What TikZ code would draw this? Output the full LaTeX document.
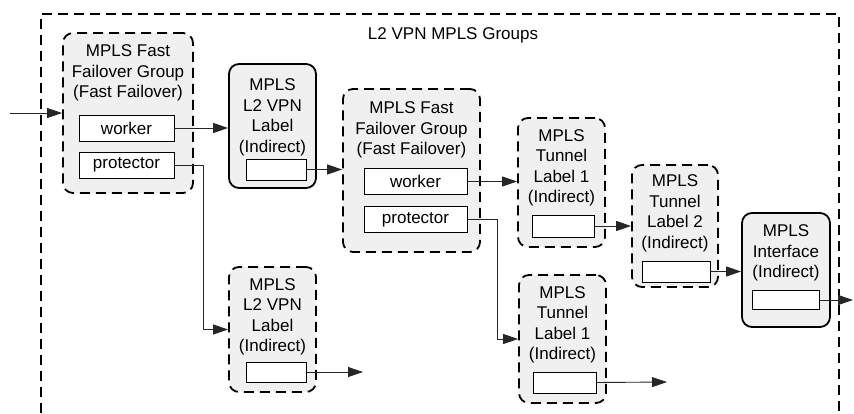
\documentclass[tikz,border=0pt]{standalone}
\usepackage{fontspec}
\setmainfont{Liberation Sans}
\usetikzlibrary{arrows.meta}
\begin{document}
\begin{tikzpicture}[x=1pt,y=-1pt,
 outer/.style={draw=black, line width=1.8pt, dash pattern=on 10pt off 6pt},
 grp/.style={draw=black, line width=1.8pt, dash pattern=on 10pt off 6pt, rounded corners=10pt, fill=black!6, inner sep=0pt},
 grpsolid/.style={draw=black, line width=1.8pt, rounded corners=10pt, fill=black!6, inner sep=0pt},
 slot/.style={draw=black, line width=0.8pt, fill=white, inner sep=0pt, font=\fontsize{17pt}{20.5pt}\selectfont},
 lbl/.style={font=\fontsize{17pt}{20.5pt}\selectfont, align=center, inner sep=0pt, text=black},
 conn/.style={line width=0.9pt, draw=black!85, -{Triangle[length=15pt,width=10pt]}},
]
\useasboundingbox (0,0) rectangle (854,413);
\draw[outer] (41,413) -- (41,14) -- (839,14) -- (839,413);
\node[lbl] (title) at (453,35) {L2 VPN MPLS Groups};

% A
\node[grp, minimum width=130pt, minimum height=160pt] (A) at (128,113) {};
\node[lbl] (Atxt) at (128,73) {MPLS Fast\\Failover Group\\(Fast Failover)};
\node[slot, minimum width=95pt, minimum height=26pt] (Aw) at (126.5,128) {worker};
\node[slot, minimum width=95pt, minimum height=26pt] (Ap) at (126.5,165) {protector};

% B
\node[grpsolid, minimum width=87pt, minimum height=124pt] (B) at (272.5,126) {};
\node[lbl] (Btxt) at (272.5,117.5) {MPLS\\L2 VPN\\Label\\(Indirect)};
\node[slot, minimum width=60pt, minimum height=21pt] (Bs) at (276,169.5) {};

% C
\node[grp, minimum width=137pt, minimum height=163pt] (C) at (411.5,170.5) {};
\node[lbl] (Ctxt) at (411.5,130) {MPLS Fast\\Failover Group\\(Fast Failover)};
\node[slot, minimum width=103pt, minimum height=26pt] (Cw) at (415.5,181.5) {worker};
\node[slot, minimum width=103pt, minimum height=26pt] (Cp) at (415.5,219.5) {protector};

% D
\node[grp, minimum width=87pt, minimum height=129pt] (D) at (561.5,182.5) {};
\node[lbl] (Dtxt) at (561.5,168) {MPLS\\Tunnel\\Label 1\\(Indirect)};
\node[slot, minimum width=62pt, minimum height=22pt] (Ds) at (563,226) {};

% E
\node[grp, minimum width=86pt, minimum height=122pt] (E) at (675,226) {};
\node[lbl] (Etxt) at (675,213.5) {MPLS\\Tunnel\\Label 2\\(Indirect)};
\node[slot, minimum width=68pt, minimum height=21pt] (Es) at (676,271.5) {};

% G
\node[grpsolid, minimum width=88pt, minimum height=114pt] (G) at (786,270) {};
\node[lbl] (Gtxt) at (786,253) {MPLS\\Interface\\(Indirect)};
\node[slot, minimum width=67pt, minimum height=19pt] (Gs) at (785.5,300) {};

% F
\node[grp, minimum width=87pt, minimum height=128pt] (F) at (562.5,339) {};
\node[lbl] (Ftxt) at (562.5,325) {MPLS\\Tunnel\\Label 1\\(Indirect)};
\node[slot, minimum width=63pt, minimum height=21pt] (Fs) at (564.5,382.5) {};

% H
\node[grp, minimum width=87pt, minimum height=125pt] (H) at (272.5,329.5) {};
\node[lbl] (Htxt) at (272.5,317) {MPLS\\L2 VPN\\Label\\(Indirect)};
\node[slot, minimum width=60pt, minimum height=20pt] (Hs) at (276,372) {};

% connectors
\coordinate (in) at (10,113);
\coordinate (out1) at (853,300);
\coordinate (out2) at (363,372);
\coordinate (out3) at (667,382);
\draw[conn] (in) -- (A.west);
\draw[conn] (Aw.east) -- (Aw.east -| B.west);
\draw[conn] (Ap.east) -- ++(29,0) |- (H.west);
\draw[conn] (Bs.east) -- (Bs.east -| C.west);
\draw[conn] (Cw.east) -- (Cw.east -| D.west);
\draw[conn] (Cp.east) -- ++(30,0) |- (F.west);
\draw[conn] (Ds.east) -- (Ds.east -| E.west);
\draw[conn] (Es.east) -- (Es.east -| G.west);
\draw[conn] (Gs.east) -- (out1);
\draw[conn] (Hs.east) -- (out2);
\draw[conn] (Fs.east) -- (out3);
\end{tikzpicture}
\end{document}
